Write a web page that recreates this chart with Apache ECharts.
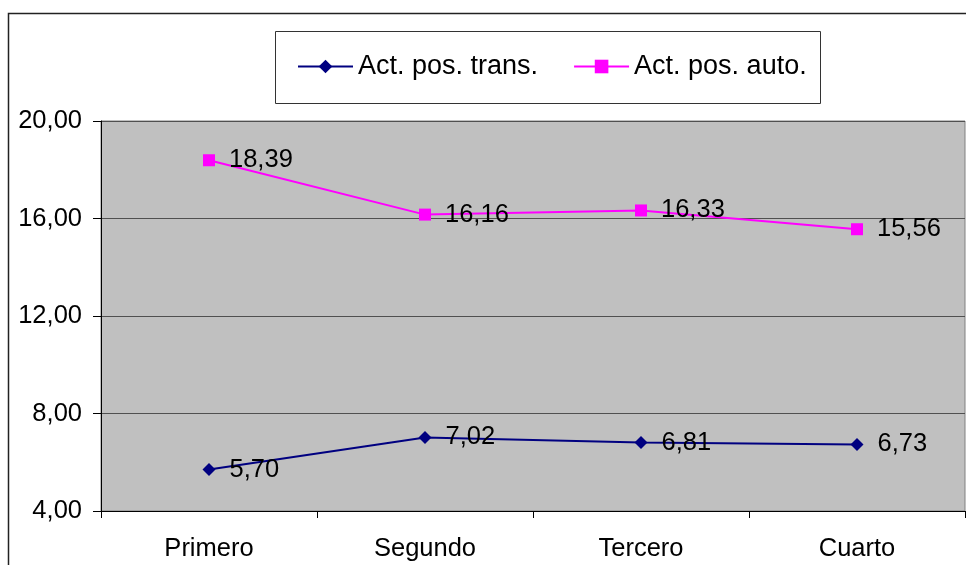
<!DOCTYPE html>
<html>
<head>
<meta charset="utf-8">
<script src="https://cdn.jsdelivr.net/npm/echarts@6/dist/echarts.min.js"></script>
<style>
  html, body { margin: 0; padding: 0; background: #fff; }
  #chart { width: 966px; height: 565px; }
</style>
</head>
<body>
<div id="chart"></div>
<script>
// Quarter categories and the two activity series
const categories = ['Primero', 'Segundo', 'Tercero', 'Cuarto'];
const transValues = [5.70, 7.02, 6.81, 6.73];
const autoValues = [18.39, 16.16, 16.33, 15.56];
const seriesNames = ['Act. pos. trans.', 'Act. pos. auto.'];

const FONT = 'Liberation Sans, Arial, sans-serif';
const fmt = v => Number(v).toFixed(2).replace('.', ',');

const chart = echarts.init(document.getElementById('chart'), null, { renderer: 'canvas' });

const labelStyle = {
  show: true,
  position: 'right',
  distance: 14,
  color: '#000',
  fontFamily: FONT,
  fontSize: 25.5,
  formatter: p => fmt(p.value)
};

chart.setOption({
  animation: false,
  backgroundColor: '#fff',
  graphic: [
    { type: 'rect', shape: { x: 8.5, y: 13.5, width: 1000, height: 600 },
      style: { fill: 'none', stroke: '#222', lineWidth: 1.5 }, z: -1 },
    { type: 'rect', shape: { x: 275.5, y: 31.5, width: 545, height: 72 },
      style: { fill: '#fff', stroke: '#333', lineWidth: 1 }, z: 0 }
  ],
  legend: {
    left: 297,
    top: 53,
    itemWidth: 55,
    itemHeight: 17,
    itemGap: 35,
    padding: 0,
    z: 10,
    textStyle: { fontFamily: FONT, fontSize: 27, color: '#000', padding: [0, 0, 0, 0] },
    data: seriesNames
  },
  grid: {
    left: 101, right: 1, top: 121, bottom: 54,
    show: true, backgroundColor: '#C0C0C0', borderColor: '#808080', borderWidth: 1
  },
  xAxis: {
    type: 'category',
    data: categories,
    boundaryGap: true,
    axisLine: { lineStyle: { color: '#000', width: 1 } },
    axisTick: { show: true, length: 7, lineStyle: { color: '#000' } },
    axisLabel: { color: '#000', fontFamily: FONT, fontSize: 25.5, margin: 25 },
    splitLine: { show: false }
  },
  yAxis: {
    type: 'value',
    min: 4, max: 20, interval: 4,
    axisLine: { show: true, lineStyle: { color: '#000', width: 1 } },
    axisTick: { show: true, length: 8, lineStyle: { color: '#000' } },
    axisLabel: { color: '#000', fontFamily: FONT, fontSize: 25.5, margin: 19, formatter: fmt },
    splitLine: { show: true, lineStyle: { color: '#505050', width: 1 } }
  },
  series: [
    {
      name: seriesNames[0], type: 'line', data: transValues,
      symbol: 'diamond', symbolSize: 13,
      lineStyle: { color: '#000080', width: 2 },
      itemStyle: { color: '#000080' },
      label: labelStyle
    },
    {
      name: seriesNames[1], type: 'line', data: autoValues,
      symbol: 'rect', symbolSize: 12,
      lineStyle: { color: '#FF00FF', width: 2 },
      itemStyle: { color: '#FF00FF' },
      label: labelStyle
    }
  ]
});
</script>
</body>
</html>
